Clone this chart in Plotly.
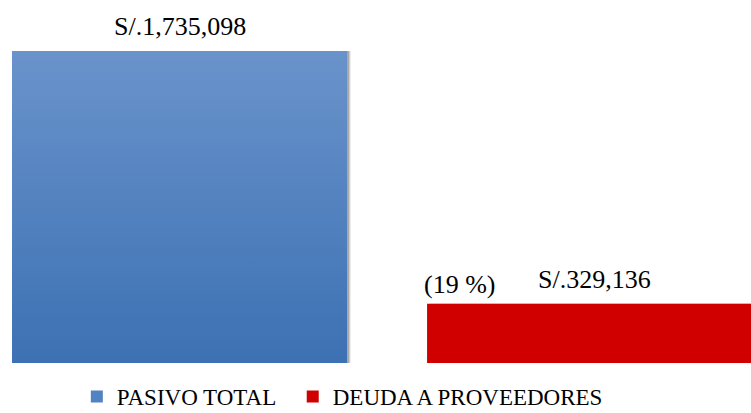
import plotly.graph_objects as go

categories = ["PASIVO TOTAL", "DEUDA A PROVEEDORES"]
values = [1735098, 329136]
value_labels = ["S/.1,735,098", "S/.329,136"]
colors = ["#5282C2", "#D00000"]
grad_bottom = "#3C71B3"
grad_top = "#6A93CB"

FONT = "Times New Roman, Liberation Serif, serif"
W = 0.807          # bar width in category units
XR = [-0.4325, 1.377]
YMAX = values[0] * 363 / 312

px_x = (XR[1] - XR[0]) / 751
px_y = YMAX / 363

fig = go.Figure()

# soft shadows
for i, v in enumerate(values):
    for k, a in [(4, 0.08), (3, 0.12), (2, 0.18)]:
        fig.add_trace(go.Bar(
            x=[i], y=[v + px_y * k], base=[-px_y * k],
            width=[W], offset=[-W / 2 + px_x * k],
            marker=dict(color=f"rgba(0,0,0,{a})", line=dict(width=0)),
            showlegend=False, hoverinfo="skip"))

legend_names = [categories[0] + "\u00a0\u00a0", categories[1]]
for i, (c, v, col) in enumerate(zip(legend_names, values, colors)):
    fig.add_trace(go.Bar(
        x=[i], y=[v], width=[W], name=c,
        marker=dict(color=col, line=dict(width=0))))

# vertical gradient overlay for first bar
x0 = 0 - W / 2
x1 = 0 + W / 2
fig.add_trace(go.Scatter(
    x=[x0, x1, x1, x0, x0], y=[0, 0, values[0], values[0], 0],
    mode="lines", line=dict(width=0), fill="toself",
    fillgradient=dict(type="vertical",
                      colorscale=[[0, grad_bottom], [1, grad_top]]),
    showlegend=False, hoverinfo="skip"))

for i, (v, t) in enumerate(zip(values, value_labels)):
    fig.add_annotation(x=i, y=v, text=t, showarrow=False,
                       yanchor="bottom", yshift=8,
                       font=dict(family=FONT, size=26, color="#000"))

pct = round(100 * values[1] / values[0])
fig.add_annotation(x=1 - W / 2, y=values[1], text=f"({pct} %)",
                   showarrow=False, xanchor="left", yanchor="bottom",
                   xshift=-5, yshift=3,
                   font=dict(family=FONT, size=26, color="#000"))

fig.update_layout(
    width=751, height=413,
    margin=dict(l=0, r=0, t=0, b=50),
    paper_bgcolor="white", plot_bgcolor="white",
    barmode="overlay",
    xaxis=dict(range=XR, visible=False),
    yaxis=dict(range=[0, YMAX], visible=False),
    legend=dict(orientation="h", x=0.1023, xanchor="left",
                yref="container", y=0.092, yanchor="top",
                font=dict(family=FONT, size=23, color="#000"),
                itemwidth=30),
    showlegend=True,
)

fig.write_html("out.html", config={"displayModeBar": False},
               post_script="document.body.style.margin='0';document.body.style.padding='0';")
